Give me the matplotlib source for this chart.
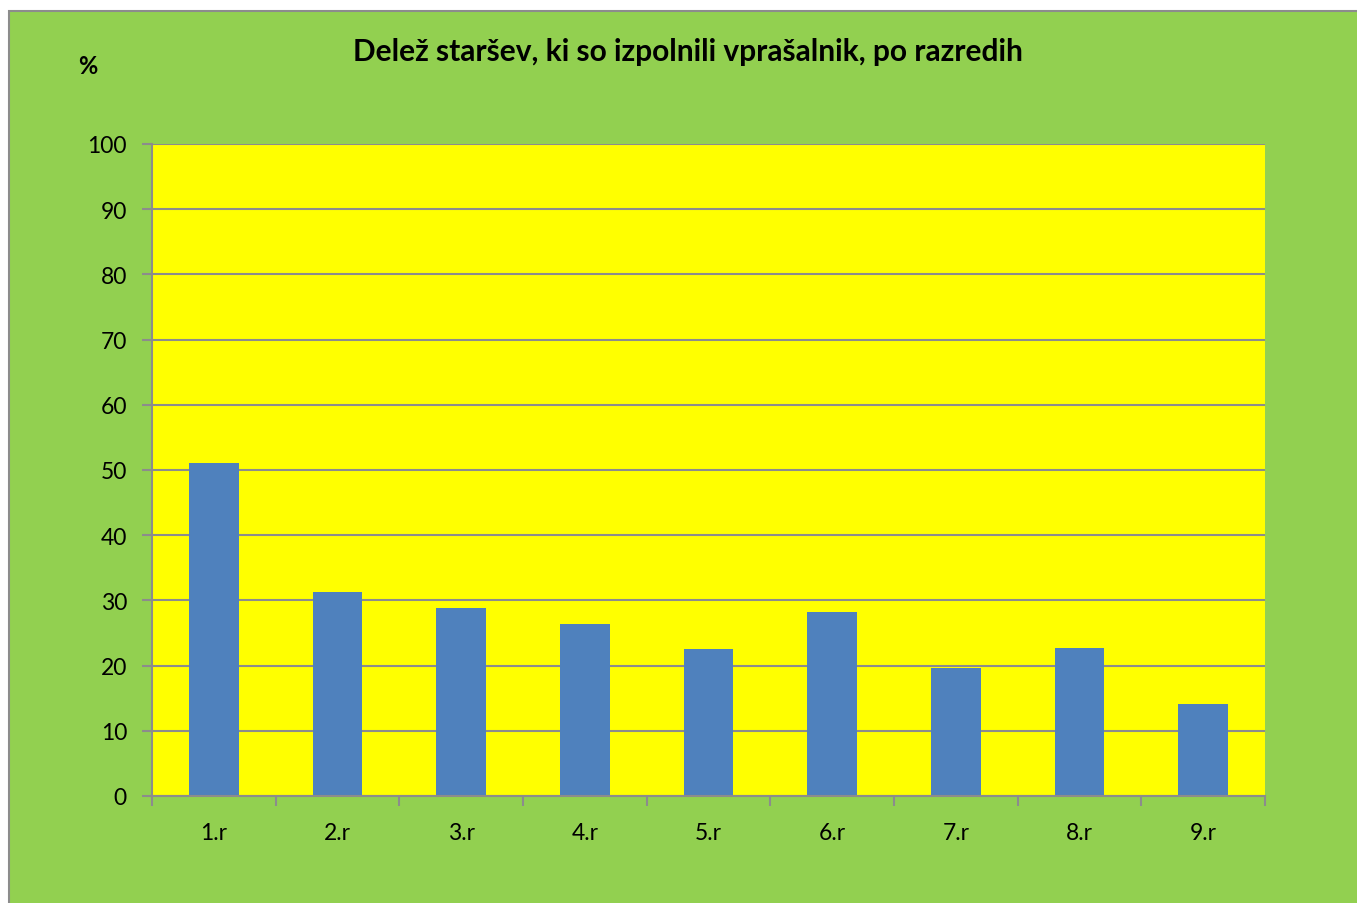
import matplotlib.pyplot as plt
from matplotlib.patches import Rectangle

# Podatki
razredi = ['1.r', '2.r', '3.r', '4.r', '5.r', '6.r', '7.r', '8.r', '9.r']
delez = [51, 31.3, 28.8, 26.4, 22.6, 28.2, 19.6, 22.7, 14.1]
y_ticks = list(range(0, 101, 10))

plt.rcParams['font.family'] = ['Lato', 'DejaVu Sans']

fig = plt.figure(figsize=(13.57, 9.04), dpi=100)
fig.patch.set_facecolor('white')

# zeleno ozadje grafikona z okvirjem
W, H = 1357, 904
fig.patches.append(Rectangle((9 / W, -0.05), 1.1, 1.05 - 12 / H, transform=fig.transFigure,
                             facecolor='#92d050', edgecolor='#8c8c8c', linewidth=1.5,
                             zorder=-1))

ax = fig.add_axes([152 / W, 1 - 797 / H, (1265 - 152) / W, (797 - 145) / H])
ax.set_zorder(2)
ax.set_facecolor('#ffff00')

x = list(range(len(razredi)))
ax.bar(x, delez, width=0.4, color='#4f81bd', zorder=3)

ax.set_xlim(-0.5, len(razredi) - 0.5)
ax.set_ylim(0, 100)
ax.set_yticks(y_ticks)
ax.set_xticks(x)
ax.set_xticklabels(razredi)
ax.set_xticks([i - 0.5 for i in range(len(razredi) + 1)], minor=True)

ax.grid(axis='y', color='#8c8c8c', linewidth=1.5, zorder=1)
ax.tick_params(axis='x', which='major', length=0, labelsize=16.5, pad=19)
ax.tick_params(axis='x', which='minor', length=7, width=1.5, color='#8c8c8c', direction='out')
ax.tick_params(axis='y', length=7, width=1.5, color='#8c8c8c', labelsize=16.5, pad=11)

for s in ['top', 'right']:
    ax.spines[s].set_visible(False)
for s in ['left', 'bottom']:
    ax.spines[s].set_color('#8c8c8c')
    ax.spines[s].set_linewidth(1.5)
    ax.spines[s].set_zorder(4)

fig.text(688 / W, 1 - 52 / H, 'Delež staršev, ki so izpolnili vprašalnik, po razredih',
         ha='center', va='center', fontsize=21.5, fontweight='bold')
fig.text(88 / W, 1 - 67 / H, '%', ha='center', va='center', fontsize=17, fontweight='bold')

plt.savefig('out.png', dpi=100, facecolor=fig.get_facecolor())
